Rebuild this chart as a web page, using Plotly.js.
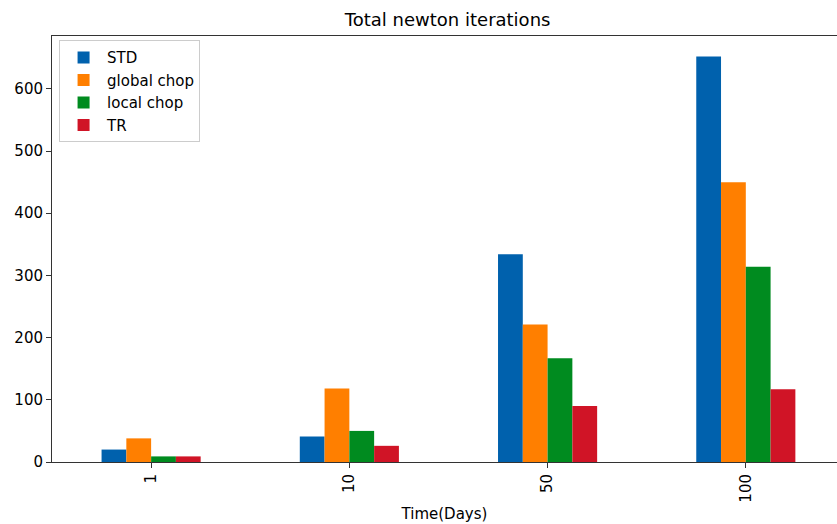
<!DOCTYPE html>
<html><head><meta charset="utf-8">
<script src="https://cdn.plot.ly/plotly-3.0.1.min.js"></script>
<style>html,body{margin:0;padding:0;overflow:hidden;background:#fff}</style>
</head><body><div id="chart" style="width:837px;height:524px"></div>
<script>
const categories = ['1', '10', '50', '100'];
const seriesNames = ['STD', 'global chop', 'local chop', 'TR'];
const stdValues = [20, 41, 334, 652];
const globalChopValues = [38, 118, 221, 450];
const localChopValues = [9, 50, 167, 314];
const trValues = [9, 26, 90, 117];
const colors = ['#0061AD', '#FF7F00', '#008B1F', '#D01426'];

const allValues = [stdValues, globalChopValues, localChopValues, trValues];
const traces = allValues.map((vals, i) => ({
  type: 'bar',
  name: seriesNames[i],
  x: categories,
  y: vals,
  marker: {color: colors[i], line: {width: 0}},
  hoverinfo: 'skip'
}));

const layout = {
  width: 837, height: 524,
  margin: {l: 52, r: 0, t: 36, b: 62, pad: 0},
  paper_bgcolor: '#fff', plot_bgcolor: '#fff',
  font: {family: 'DejaVu Sans', color: '#000', size: 15},
  barmode: 'group', bargap: 0.5, bargroupgap: 0,
  title: {text: 'Total newton iterations', font: {size: 18, family: 'DejaVu Sans', color: '#000'},
          x: 0.504, xref: 'paper', xanchor: 'center', y: 1 - 20/524, yref: 'container', yanchor: 'middle'},
  xaxis: {
    type: 'category', range: [-0.5, 3.46],
    showline: true, linecolor: '#333', linewidth: 1, mirror: true,
    ticks: 'outside', ticklen: 5, tickcolor: '#333', tickangle: -90,
    showgrid: false, zeroline: false,
    tickfont: {size: 15},
    title: {text: 'Time(Days)', font: {size: 15}, standoff: 6}
  },
  yaxis: {
    range: [0, 685],
    tickvals: [0, 100, 200, 300, 400, 500, 600],
    showline: true, linecolor: '#333', linewidth: 1, mirror: false,
    ticks: 'outside', ticklen: 5, tickcolor: '#333',
    showgrid: false, zeroline: false,
    tickfont: {size: 15}
  },
  legend: {
    x: 0.009, y: 0.99, xanchor: 'left', yanchor: 'top',
    bgcolor: '#fff', bordercolor: '#ccc', borderwidth: 1,
    font: {size: 15}, traceorder: 'normal', itemwidth: 37
  },
  showlegend: true
};
Plotly.newPlot('chart', traces, layout, {displayModeBar: false, staticPlot: true});
</script></body></html>
